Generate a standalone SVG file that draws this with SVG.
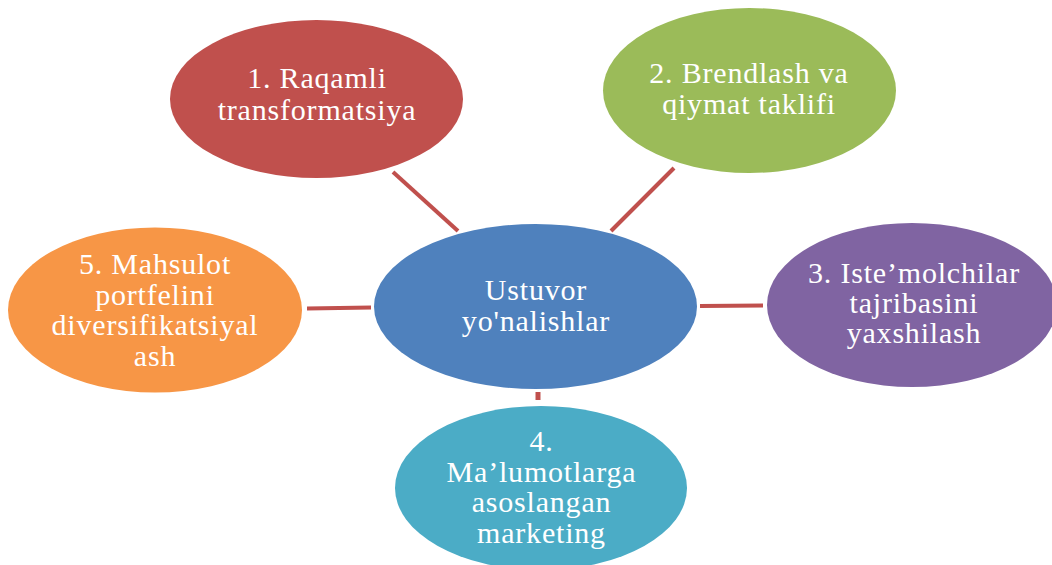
<svg xmlns="http://www.w3.org/2000/svg" width="1052" height="565" viewBox="0 0 1052 565">
<style>
text{font-family:"Liberation Serif","DejaVu Serif",serif;font-size:30px;letter-spacing:0.8px;fill:#fff;text-anchor:middle}
.c{stroke:#C0504D;stroke-width:4;fill:none}
</style>
<rect width="1052" height="565" fill="#fff"/>
<g id="connectors">
<line class="c" x1="393" y1="172" x2="458" y2="231"/>
<line class="c" x1="674" y1="168" x2="611" y2="231"/>
<line class="c" x1="307" y1="308.5" x2="371" y2="307.5"/>
<line class="c" x1="700" y1="306" x2="763" y2="305.5"/>
<line class="c" x1="538" y1="392" x2="538" y2="400" style="stroke-width:5"/>
</g>
<g id="center">
<ellipse cx="535.5" cy="306.5" rx="161.5" ry="82.5" fill="#4F81BD"/>
<text x="536" y="300">Ustuvor</text>
<text x="536" y="331">yo'nalishlar</text>
</g>
<g id="n1">
<ellipse cx="316.5" cy="99" rx="146.5" ry="79" fill="#C0504D"/>
<text x="317" y="88">1. Raqamli</text>
<text x="317" y="120">transformatsiya</text>
</g>
<g id="n2">
<ellipse cx="749.5" cy="90.5" rx="146.5" ry="82.5" fill="#9BBB59"/>
<text x="749" y="83">2. Brendlash va</text>
<text x="749" y="114">qiymat taklifi</text>
</g>
<g id="n3">
<ellipse cx="912" cy="305" rx="145" ry="82" fill="#8064A2"/>
<text x="914" y="283">3. Iste’molchilar</text>
<text x="914" y="313">tajribasini</text>
<text x="914" y="343">yaxshilash</text>
</g>
<g id="n4">
<ellipse cx="541" cy="488" rx="146" ry="82" fill="#4BACC6"/>
<text x="541.5" y="451">4.</text>
<text x="541.5" y="482">Ma’lumotlarga</text>
<text x="541.5" y="512">asoslangan</text>
<text x="541.5" y="543">marketing</text>
</g>
<g id="n5">
<ellipse cx="155" cy="310" rx="147" ry="82.5" fill="#F79646"/>
<text x="155" y="274">5. Mahsulot</text>
<text x="155" y="305">portfelini</text>
<text x="155" y="335">diversifikatsiyal</text>
<text x="155" y="366">ash</text>
</g>
</svg>
